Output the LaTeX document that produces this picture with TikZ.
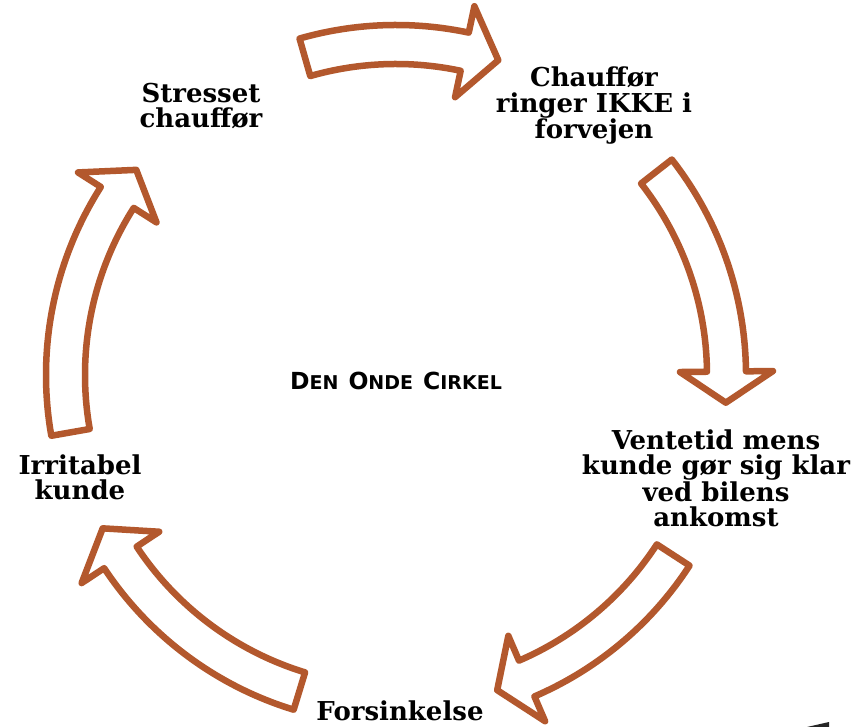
\documentclass[tikz,border=0pt]{standalone}
\usepackage{fontspec}
\setmainfont{DejaVu Serif}
\newfontfamily\titlefont{DejaVu Sans}
\definecolor{arrowbrown}{RGB}{179,88,45}
\tikzset{
  cyclearrow/.style={draw=arrowbrown, line width=6.5pt, fill=white, line join=round},
  steplabel/.style={font=\bfseries\fontsize{26}{25.5}\selectfont, align=center, inner sep=0pt, anchor=base},
  titlelabel/.style={font=\titlefont\bfseries, inner sep=0pt, anchor=base}
}
\newcommand\drawcyclearrow[3]{%
  \draw[cyclearrow] (#1:350) arc[start angle=#1, end angle=#2, radius=350]
    -- (#2:377) -- (#3:331) -- (#2:284) -- (#2:311)
    arc[start angle=#2, end angle=#1, radius=311] -- cycle;}
\newcommand\capsA[1]{{\fontsize{23.5}{23.5}\selectfont #1}}
\newcommand\capsB[1]{{\fontsize{19}{19}\selectfont #1}}
\begin{document}
\begin{tikzpicture}[x=1pt, y=1pt]
  \useasboundingbox (0,0) rectangle (866,727);
  \fill[white] (0,0) rectangle (866,727);
  \begin{scope}[shift={(396,352)}]
    \drawcyclearrow{106}{78}{72}
    \drawcyclearrow{38}{0.6}{-4.8}
    \drawcyclearrow{-33}{-66.7}{-72.2}
    \drawcyclearrow{-107}{-146.5}{-152.4}
    \drawcyclearrow{190}{147.5}{141.7}
  \end{scope}
  \node[steplabel] (stress) at (201,599) {Stresset\\chauffør};
  \node[steplabel] (ring) at (594,588) {Chauffør\\ringer IKKE i\\forvejen};
  \node[steplabel] (vent) at (716,200.3) {Ventetid mens\\kunde gør sig klar\\ved bilens\\ankomst};
  \node[steplabel] (fors) at (400,6) {Forsinkelse};
  \node[steplabel] (irr) at (80,227) {Irritabel\\kunde};
  \node[titlelabel] (title) at (396,337) {\capsA{D}\capsB{EN}\hspace{10pt}\capsA{O}\capsB{NDE}\hspace{10pt}\capsA{C}\capsB{IRKEL}};
  \fill[black!85] (807,0) -- (829,5) -- (829,0) -- cycle;
\end{tikzpicture}
\end{document}
